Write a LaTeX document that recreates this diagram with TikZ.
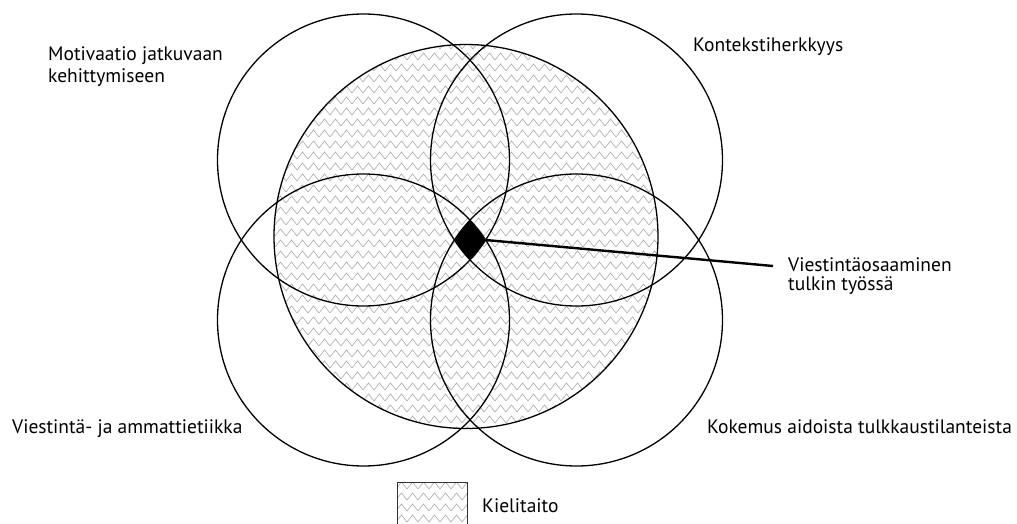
\documentclass[tikz,border=0pt]{standalone}
\usepackage{fontspec}
\setmainfont{PT Sans}
\usetikzlibrary{patterns.meta, positioning}

% Siksak-kuvio kielitaidolle
\pgfdeclarepattern{
  name=zigzag,
  type=uncolored,
  bottom left={\pgfpoint{-1pt}{-1pt}},
  top right={\pgfpoint{12pt}{12pt}},
  tile size={\pgfpoint{11pt}{11pt}},
  code={
    \pgfsetlinewidth{0.7pt}
    \pgfpathmoveto{\pgfpoint{0pt}{2pt}}
    \pgfpathlineto{\pgfpoint{5.5pt}{9pt}}
    \pgfpathlineto{\pgfpoint{11pt}{2pt}}
    \pgfusepath{stroke}
  }
}

\begin{document}
\begin{tikzpicture}[
    x=1pt, y=-1pt,
    % Ympyröiden ja tekstien tyylit
    ring/.style={draw=black, line width=1.3pt},
    kuvio/.style={pattern=zigzag, pattern color=gray!60},
    lbl/.style={inner sep=0pt, anchor=base west, align=left, font=\fontsize{19.5}{22}\selectfont},
    link/.style={line width=2.4pt, draw=black}
]
\useasboundingbox (0,0) rectangle (1017,524);

% Keskipisteet
\coordinate (core) at (466,236.5);
\coordinate (tl) at (363.5,160);
\coordinate (tr) at (576.5,160);
\coordinate (bl) at (363.5,320);
\coordinate (br) at (576.5,320);
\coordinate (mid) at (470,240);
\coordinate (tip) at (485.6,240);

% Kielitaito (keskimmäinen ympyrä)
\fill [kuvio] (core) circle (192);
\draw [ring] (core) circle (192);

% Kaikkien neljän ympyrän leikkaus
\begin{scope}
  \clip (tl) circle (146);
  \clip (tr) circle (146);
  \clip (bl) circle (146);
  \clip (br) circle (146);
  \fill (mid) circle (40);
\end{scope}

% Neljä osaamisaluetta
\foreach \c in {tl,tr,bl,br}
  \draw [ring] (\c) circle (146);

% Tekstit
\node (motiv) [lbl] at (48,83) {Motivaatio jatkuvaan\\kehittymiseen};
\node (konteksti) [lbl] at (693,52) {Kontekstiherkkyys};
\node (etiikka) [lbl] at (12,433) {Viestintä- ja ammattietiikka};
\node (kokemus) [lbl] at (707,433) {Kokemus aidoista tulkkaustilanteista};
\node (viest) [lbl, font=\fontsize{19.5}{19}\selectfont] at (788,290) {Viestintäosaaminen\\tulkin työssä};

% Viiva keskeltä selitteeseen
\draw [link] (tip) -- ([shift={(-15,-24)}]viest.base west);

% Selite
\node (legend) [kuvio, draw=gray!40!black, line width=0.8pt, minimum width=70pt, minimum height=50pt, anchor=north west, inner sep=0pt] at (397,482) {};
\node (kieli) [lbl] at (482,512) {Kielitaito};

\end{tikzpicture}
\end{document}
